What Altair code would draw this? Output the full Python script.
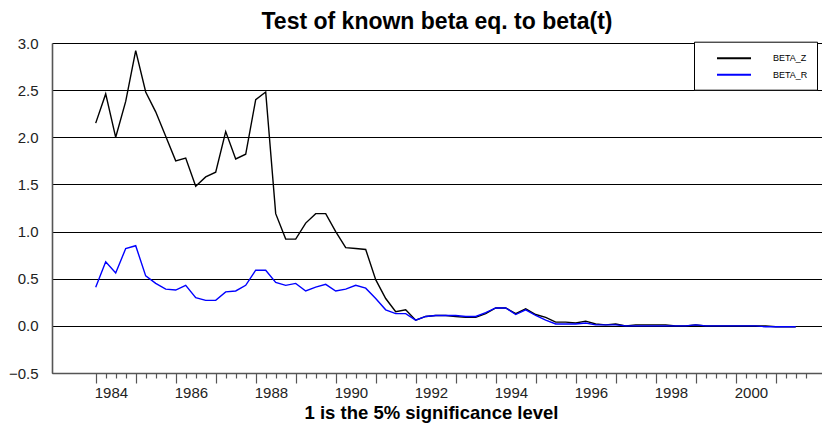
import altair as alt
import pandas as pd

# ---- data (quarterly, starting 1984Q1) ----
start_year = 1984
beta_z = [
    2.15, 2.46, 2.00, 2.38, 2.92, 2.48, 2.27, 2.01, 1.75, 1.78,
    1.48, 1.58, 1.63, 2.06, 1.77, 1.82, 2.40, 2.48, 1.19, 0.92,
    0.92, 1.09, 1.19, 1.19, 1.00, 0.83, 0.82, 0.81, 0.49, 0.29,
    0.15, 0.17, 0.06, 0.10, 0.11, 0.11, 0.10, 0.09, 0.09, 0.13,
    0.19, 0.19, 0.13, 0.18, 0.12, 0.09, 0.04, 0.04, 0.03, 0.05,
    0.02, 0.01, 0.02, 0.00, 0.01, 0.01, 0.01, 0.01, 0.00, 0.00,
    0.01, 0.00, 0.00, 0.00, 0.00, 0.00, 0.00, 0.00, -0.01, -0.01, -0.01,
]
beta_r = [
    0.41, 0.68, 0.56, 0.82, 0.85, 0.53, 0.45, 0.39, 0.38, 0.43,
    0.30, 0.27, 0.27, 0.36, 0.37, 0.43, 0.59, 0.59, 0.46, 0.43,
    0.45, 0.37, 0.41, 0.44, 0.37, 0.39, 0.43, 0.40, 0.29, 0.17,
    0.13, 0.13, 0.06, 0.10, 0.11, 0.11, 0.11, 0.10, 0.10, 0.14,
    0.19, 0.19, 0.12, 0.17, 0.11, 0.06, 0.02, 0.02, 0.02, 0.03,
    0.01, 0.01, 0.01, 0.00, 0.00, 0.00, 0.00, 0.00, 0.00, 0.00,
    0.01, 0.00, 0.00, 0.00, 0.00, 0.00, 0.00, -0.01, -0.01, -0.01, -0.01,
]
series_names = ["BETA_Z", "BETA_R"]
series_colors = ["#000000", "#0000FF"]
y_ticks = [-0.5, 0.0, 0.5, 1.0, 1.5, 2.0, 2.5, 3.0]
x_tick_start = 1984.0
x_tick_end = 2001.75

n = len(beta_z)
t = [start_year + i * 0.25 for i in range(n)]
df = pd.DataFrame({
    "t": t + t,
    "value": beta_z + beta_r,
    "series": [series_names[0]] * n + [series_names[1]] * n,
})
x_ticks = [x_tick_start + 0.25 * k for k in range(int((x_tick_end - x_tick_start) / 0.25) + 1)]

FONT = "Liberation Sans"

x_enc = alt.X(
    "t:Q",
    scale=alt.Scale(domain=[1982.9075, 2002.1575], nice=False, zero=False),
    axis=alt.Axis(
        values=x_ticks,
        labelExpr="datum.value % 2 == 0 ? format(datum.value, 'd') : ''",
        labelOverlap=False,
        labelFlush=False,
        labelAlign="left",
        labelOffset=-1.5,
        labelFont=FONT,
        labelFontSize=15,
        labelColor="#222222",
        labelPadding=2,
        tickColor="#555555",
        tickWidth=1.2,
        tickSize={"condition": {"test": "datum.value % 1 == 0", "value": 10}, "value": 5},
        domainColor="#555555",
        domainWidth=1.6,
        grid=False,
        title="1 is the 5% significance level",
        titleFont=FONT,
        titleFontSize=18.5,
        titleFontWeight="bold",
        titleColor="#000000",
        titleX=379,
        titleAlign="center",
        titlePadding=3,
    ),
)
y_enc = alt.Y(
    "value:Q",
    scale=alt.Scale(domain=[-0.5, 3.0], nice=False, zero=False),
    axis=alt.Axis(
        values=y_ticks,
        format=".1f",
        ticks=False,
        labelFont=FONT,
        labelFontSize=15,
        labelColor="#222222",
        labelPadding=14,
        domainColor="#555555",
        domainWidth=1.6,
        grid=True,
        gridColor="#000000",
        gridWidth=1,
        title=None,
    ),
)
color_enc = alt.Color(
    "series:N",
    scale=alt.Scale(domain=series_names, range=series_colors),
    legend=alt.Legend(
        title=None,
        orient="none",
        legendX=642,
        legendY=-1.3,
        symbolType="M-2.8333,0H2.8333",
        symbolSize=144,
        symbolStrokeWidth=2,
        symbolOffset=23.5,
        labelFont=FONT,
        labelFontSize=9,
        labelColor="#000000",
        labelOffset=32,
        labelExpr="datum.label + '\u00a0\u00a0\u00a0\u00a0'",
        padding=9.5,
        rowPadding=4.6,
        strokeColor="#000000",
        fillColor="#FFFFFF",
        cornerRadius=0,
    ),
)

base = alt.Chart(df).mark_line(strokeWidth=1.4).encode(x=x_enc, y=y_enc, color=color_enc)
layer_z = base.transform_filter(alt.datum.series == series_names[0])
layer_r = base.transform_filter(alt.datum.series == series_names[1])

chart = (
    alt.layer(layer_z, layer_r)
    .properties(
        width=770,
        height=330,
        title=alt.Title(
            "Test of known beta eq. to beta(t)",
            font=FONT,
            fontSize=23,
            fontWeight="bold",
            color="#000000",
            anchor="middle",
            offset=2,
        ),
        autosize=alt.AutoSizeParams(type="none"),
        padding={"left": 44, "top": 35, "right": 0, "bottom": 52},
    )
    .configure_view(strokeWidth=0)
    .configure(background="#FFFFFF")
)

chart.save("out.html", embed_options={"renderer": "svg", "actions": False})
